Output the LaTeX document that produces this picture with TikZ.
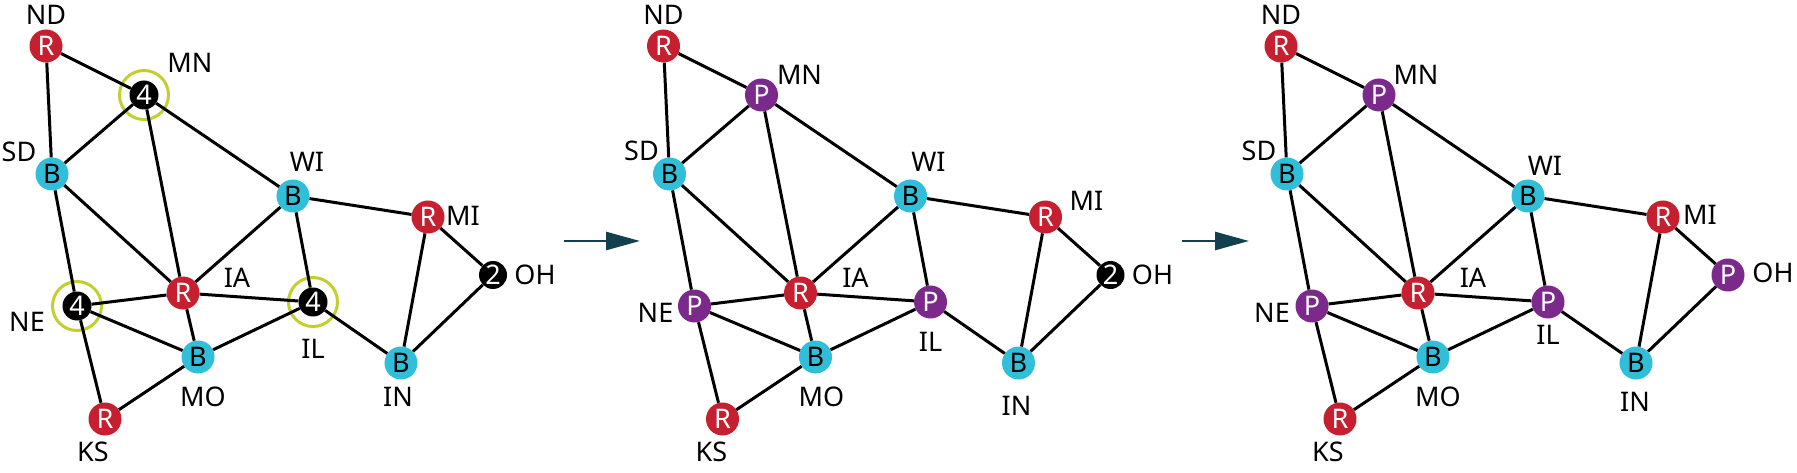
\documentclass[tikz,border=0pt]{standalone}
\usepackage{fontspec}
\setmainfont{Noto Sans}
\usetikzlibrary{positioning,arrows.meta}
\definecolor{redc}{HTML}{C62030}
\definecolor{bluec}{HTML}{31BED8}
\definecolor{purpc}{HTML}{7B2A8C}
\definecolor{ringc}{HTML}{C3CF2F}
\definecolor{arrc}{HTML}{12404F}
\tikzset{font=\fontsize{27}{32}\selectfont}

\begin{document}
\begin{tikzpicture}[x=1pt, y=-1pt,
	st/.style={circle, inner sep=0pt, minimum size=33pt},
	rd/.style={st, fill=redc, text=white},
	bl/.style={st, fill=bluec, text=black},
	pu/.style={st, fill=purpc, text=white},
	bk/.style={st, fill=black, text=white, minimum size=29pt},
	ring/.style={circle, draw=ringc, line width=3pt, minimum size=49pt, inner sep=0pt},
	lab/.style={inner sep=1pt},
	edge/.style={line width=3pt},
	flow/.style={arrc, line width=2.7pt, -{Triangle[length=34pt, width=18pt]}}]
	\useasboundingbox (0,0) rectangle (1797,473);

	% before
	\begin{scope}
		\node[ring] (mnr) at (144,95) {};
		\node[ring] (ner) at (77,306) {};
		\node[ring] (ilr) at (313,302) {};

		\node[rd] (nd1) at (46,46) {R};
		\node[bk] (mn1) at (144,95) {4};
		\node[bl] (sd1) at (52,174) {B};
		\node[bl] (wi1) at (293,196) {B};
		\node[rd] (mi1) at (428,217) {R};
		\node[rd] (ia1) at (183,293) {R};
		\node[bk] (ne1) at (77,306) {4};
		\node[bk] (il1) at (313,302) {4};
		\node[bl] (mo1) at (198,357) {B};
		\node[bl] (in1) at (401,363) {B};
		\node[rd] (ks1) at (105,419) {R};
		\node[bk, minimum size=28pt] (oh1) at (493,275) {2};

		\node[lab] (ndl1) at (46,15) {ND};
		\node[lab] (mnl1) at (190,63) {MN};
		\node[lab] (sdl1) at (19,152) {SD};
		\node[lab] (wil1) at (307,162) {WI};
		\node[lab] (mil1) at (463,216) {MI};
		\node[lab] (ial1) at (237,278) {IA};
		\node[lab] (nel1) at (27,322) {NE};
		\node[lab] (ill1) at (313,349) {IL};
		\node[lab] (mol1) at (203,397) {MO};
		\node[lab] (inl1) at (398,397) {IN};
		\node[lab] (ksl1) at (93,452) {KS};
		\node[lab] (ohl1) at (535,275) {OH};
	\end{scope}

	% after one step
	\begin{scope}[xshift=617.5pt]
		\node[rd] (nd2) at (46,46) {R};
		\node[pu] (mn2) at (144,95) {P};
		\node[bl] (sd2) at (52,174) {B};
		\node[bl] (wi2) at (293,196) {B};
		\node[rd] (mi2) at (428,217) {R};
		\node[rd] (ia2) at (183,293) {R};
		\node[pu] (ne2) at (77,306) {P};
		\node[pu] (il2) at (313,302) {P};
		\node[bl] (mo2) at (198,357) {B};
		\node[bl] (in2) at (401,363) {B};
		\node[rd] (ks2) at (105,419) {R};
		\node[bk, minimum size=28pt] (oh2) at (493,275) {2};

		\node[lab] (ndl2) at (46,15) {ND};
		\node[lab] (mnl2) at (182,75) {MN};
		\node[lab] (sdl2) at (24,151) {SD};
		\node[lab] (wil2) at (311,162) {WI};
		\node[lab] (mil2) at (469,201) {MI};
		\node[lab] (ial2) at (238,278) {IA};
		\node[lab] (nel2) at (38,313) {NE};
		\node[lab] (ill2) at (313,342) {IL};
		\node[lab] (mol2) at (204,397) {MO};
		\node[lab] (inl2) at (399,406) {IN};
		\node[lab] (ksl2) at (94,452) {KS};
		\node[lab] (ohl2) at (535,275) {OH};
	\end{scope}

	% after two steps
	\begin{scope}[xshift=1235pt]
		\node[rd] (nd3) at (46,46) {R};
		\node[pu] (mn3) at (144,95) {P};
		\node[bl] (sd3) at (52,174) {B};
		\node[bl] (wi3) at (293,196) {B};
		\node[rd] (mi3) at (428,217) {R};
		\node[rd] (ia3) at (183,293) {R};
		\node[pu] (ne3) at (77,306) {P};
		\node[pu] (il3) at (313,302) {P};
		\node[bl] (mo3) at (198,357) {B};
		\node[bl] (in3) at (401,363) {B};
		\node[rd] (ks3) at (105,419) {R};
		\node[pu] (oh3) at (493,275) {P};

		\node[lab] (ndl3) at (46,15) {ND};
		\node[lab] (mnl3) at (181,75) {MN};
		\node[lab] (sdl3) at (24,151) {SD};
		\node[lab] (wil3) at (310,166) {WI};
		\node[lab] (mil3) at (465,215) {MI};
		\node[lab] (ial3) at (238,278) {IA};
		\node[lab] (nel3) at (37,313) {NE};
		\node[lab] (ill3) at (313,335) {IL};
		\node[lab] (mol3) at (203,397) {MO};
		\node[lab] (inl3) at (400,402) {IN};
		\node[lab] (ksl3) at (93,452) {KS};
		\node[lab] (ohl3) at (538,273) {OH};
	\end{scope}

	\foreach \p in {1,2,3} {
		\draw[edge] (nd\p) -- (mn\p);
		\draw[edge] (nd\p) -- (sd\p);
		\draw[edge] (mn\p) -- (sd\p);
		\draw[edge] (mn\p) -- (ia\p);
		\draw[edge] (mn\p) -- (wi\p);
		\draw[edge] (sd\p) -- (ia\p);
		\draw[edge] (sd\p) -- (ne\p);
		\draw[edge] (wi\p) -- (ia\p);
		\draw[edge] (wi\p) -- (mi\p);
		\draw[edge] (wi\p) -- (il\p);
		\draw[edge] (mi\p) -- (in\p);
		\draw[edge] (mi\p) -- (oh\p);
		\draw[edge] (oh\p) -- (in\p);
		\draw[edge] (ia\p) -- (ne\p);
		\draw[edge] (ia\p) -- (il\p);
		\draw[edge] (ia\p) -- (mo\p);
		\draw[edge] (ne\p) -- (mo\p);
		\draw[edge] (ne\p) -- (ks\p);
		\draw[edge] (ks\p) -- (mo\p);
		\draw[edge] (mo\p) -- (il\p);
		\draw[edge] (il\p) -- (in\p);
	}

	\coordinate (a1s) at (564,241);
	\coordinate (a1e) at (640,241);
	\coordinate (a2s) at (1182,241);
	\coordinate (a2e) at (1249,241);
	\draw[flow] (a1s) -- (a1e);
	\draw[flow] (a2s) -- (a2e);
\end{tikzpicture}
\end{document}
